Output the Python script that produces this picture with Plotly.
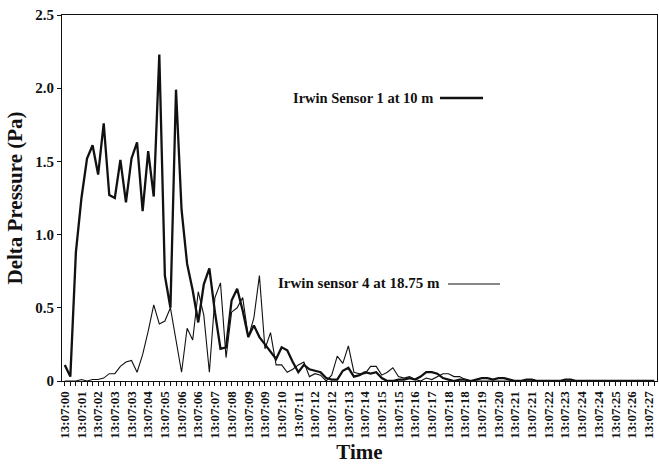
import plotly.graph_objects as go

# Sample index (0.25 s steps starting at 13:07:00.75)
sensor1_10m = [
    0.11, 0.03, 0.88, 1.25, 1.52, 1.61, 1.41, 1.76, 1.27, 1.25,
    1.51, 1.22, 1.52, 1.63, 1.16, 1.57, 1.26, 2.23, 0.72, 0.50,
    1.99, 1.17, 0.80, 0.62, 0.40, 0.66, 0.77, 0.47, 0.22, 0.23,
    0.55, 0.63, 0.48, 0.30, 0.38, 0.30, 0.25, 0.20, 0.15, 0.23,
    0.21, 0.13, 0.06, 0.11, 0.08, 0.07, 0.06, 0.02, 0.01, 0.01,
    0.07, 0.09, 0.03, 0.04, 0.06, 0.05, 0.06, 0.02, 0.00, 0.00,
    0.01, 0.01, 0.02, 0.01, 0.03, 0.06, 0.06, 0.05, 0.02, 0.01,
    0.00, 0.01, 0.01, 0.00, 0.01, 0.02, 0.02, 0.01, 0.02, 0.02,
    0.01, 0.00, 0.00, 0.01, 0.01, 0.00, 0.00, 0.00, 0.00, 0.00,
    0.01, 0.01, 0.00, 0.00, 0.00, 0.00, 0.00, 0.00, 0.00, 0.00,
    0.00, 0.00, 0.00, 0.00, 0.00, 0.00, 0.00,
]

sensor4_18_75m = [
    0.00, 0.00, 0.00, 0.01, 0.00, 0.01, 0.01, 0.02, 0.05, 0.05,
    0.10, 0.13, 0.14, 0.06, 0.18, 0.34, 0.52, 0.39, 0.41, 0.50,
    0.28, 0.06, 0.36, 0.28, 0.61, 0.45, 0.06, 0.57, 0.67, 0.16,
    0.47, 0.50, 0.57, 0.30, 0.43, 0.72, 0.22, 0.33, 0.11, 0.11,
    0.06, 0.08, 0.11, 0.13, 0.03, 0.05, 0.04, 0.00, 0.04, 0.17,
    0.12, 0.24, 0.06, 0.05, 0.05, 0.10, 0.10, 0.04, 0.06, 0.09,
    0.03, 0.02, 0.03, 0.01, 0.00, 0.02, 0.01, 0.03, 0.05, 0.05,
    0.03, 0.03, 0.01, 0.00, 0.00, 0.00, 0.00, 0.00, 0.00, 0.00,
    0.00, 0.00, 0.00, 0.00, 0.00, 0.00, 0.00, 0.00, 0.00, 0.00,
    0.00, 0.00, 0.00, 0.00, 0.00, 0.00, 0.00, 0.00, 0.00, 0.00,
    0.00, 0.00, 0.00, 0.00, 0.00, 0.00, 0.00,
]

sample_index = list(range(len(sensor1_10m)))

# One label every third sample (0.75 s)
tick_labels = [
    "13:07:00", "13:07:01", "13:07:02", "13:07:03", "13:07:03", "13:07:04",
    "13:07:05", "13:07:06", "13:07:06", "13:07:07", "13:07:08", "13:07:09",
    "13:07:09", "13:07:10", "13:07:11", "13:07:12", "13:07:12", "13:07:13",
    "13:07:14", "13:07:15", "13:07:15", "13:07:16", "13:07:17", "13:07:18",
    "13:07:18", "13:07:19", "13:07:20", "13:07:21", "13:07:21", "13:07:22",
    "13:07:23", "13:07:24", "13:07:24", "13:07:25", "13:07:26", "13:07:27",
]
tick_positions = [3 * k for k in range(len(tick_labels))]

y_tick_values = [0, 0.5, 1.0, 1.5, 2.0, 2.5]
y_tick_labels = ["0", "0.5", "1.0", "1.5", "2.0", "2.5"]

SERIF = "Liberation Serif, Times New Roman, serif"
INK = "#111111"

# plot-area geometry in pixels
LEFT, RIGHT, TOP, BOTTOM = 62, 657, 15, 381
W, H = RIGHT - LEFT, BOTTOM - TOP


def px(x):
    return (x - LEFT) / W


def py(y):
    return (BOTTOM - y) / H


fig = go.Figure()
fig.add_trace(go.Scatter(
    x=sample_index, y=sensor4_18_75m, mode="lines",
    line=dict(color=INK, width=1.1), name="Irwin sensor 4 at 18.75 m",
))
fig.add_trace(go.Scatter(
    x=sample_index, y=sensor1_10m, mode="lines",
    line=dict(color=INK, width=2.3), name="Irwin Sensor 1 at 10 m",
))

# In-plot series labels with a line key after each
fig.add_annotation(
    xref="paper", yref="paper", x=px(291), y=py(98),
    xanchor="left", yanchor="middle", showarrow=False,
    text="<b>Irwin Sensor 1 at 10 m</b>",
    font=dict(family=SERIF, size=14.5, color=INK),
)
fig.add_shape(
    type="line", xref="paper", yref="paper",
    x0=px(440), x1=px(483), y0=py(98), y1=py(98),
    line=dict(color=INK, width=2.3),
)
fig.add_annotation(
    xref="paper", yref="paper", x=px(276), y=py(283),
    xanchor="left", yanchor="middle", showarrow=False,
    text="<b>Irwin sensor 4 at 18.75 m</b>",
    font=dict(family=SERIF, size=15, color=INK),
)
fig.add_shape(
    type="line", xref="paper", yref="paper",
    x0=px(448), x1=px(500), y0=py(284), y1=py(284),
    line=dict(color=INK, width=1.1),
)

fig.update_layout(
    width=659, height=465,
    margin=dict(l=LEFT, r=659 - RIGHT, t=TOP, b=465 - BOTTOM),
    paper_bgcolor="white", plot_bgcolor="white",
    showlegend=False,
    font=dict(family=SERIF, color=INK),
)
fig.update_xaxes(
    range=[-0.5, 106.5],
    tickmode="array", tickvals=tick_positions,
    ticktext=[f"<b>{t}</b>" for t in tick_labels],
    tickangle=-90, tickfont=dict(family=SERIF, size=13, color=INK),
    ticks="outside", ticklen=4, tickcolor=INK, tickwidth=1,
    minor=dict(tickmode="linear", tick0=0, dtick=1, ticks="outside",
               ticklen=4, tickcolor=INK, tickwidth=1, showgrid=False),
    showline=True, linecolor=INK, linewidth=1, mirror=True,
    showgrid=False, zeroline=False,
    title=dict(text="<b>Time</b>", font=dict(family=SERIF, size=21, color=INK), standoff=6),
)
fig.update_yaxes(
    range=[0, 2.5],
    tickmode="array", tickvals=y_tick_values,
    ticktext=[f"<b>{t}</b>" for t in y_tick_labels],
    tickfont=dict(family=SERIF, size=15, color=INK),
    ticks="outside", ticklen=4, tickcolor=INK, tickwidth=1,
    showline=True, linecolor=INK, linewidth=1, mirror=True,
    showgrid=False, zeroline=False,
    title=dict(text="<b>Delta Pressure (Pa)</b>", font=dict(family=SERIF, size=21, color=INK), standoff=6),
)

fig.write_html("out.html")
